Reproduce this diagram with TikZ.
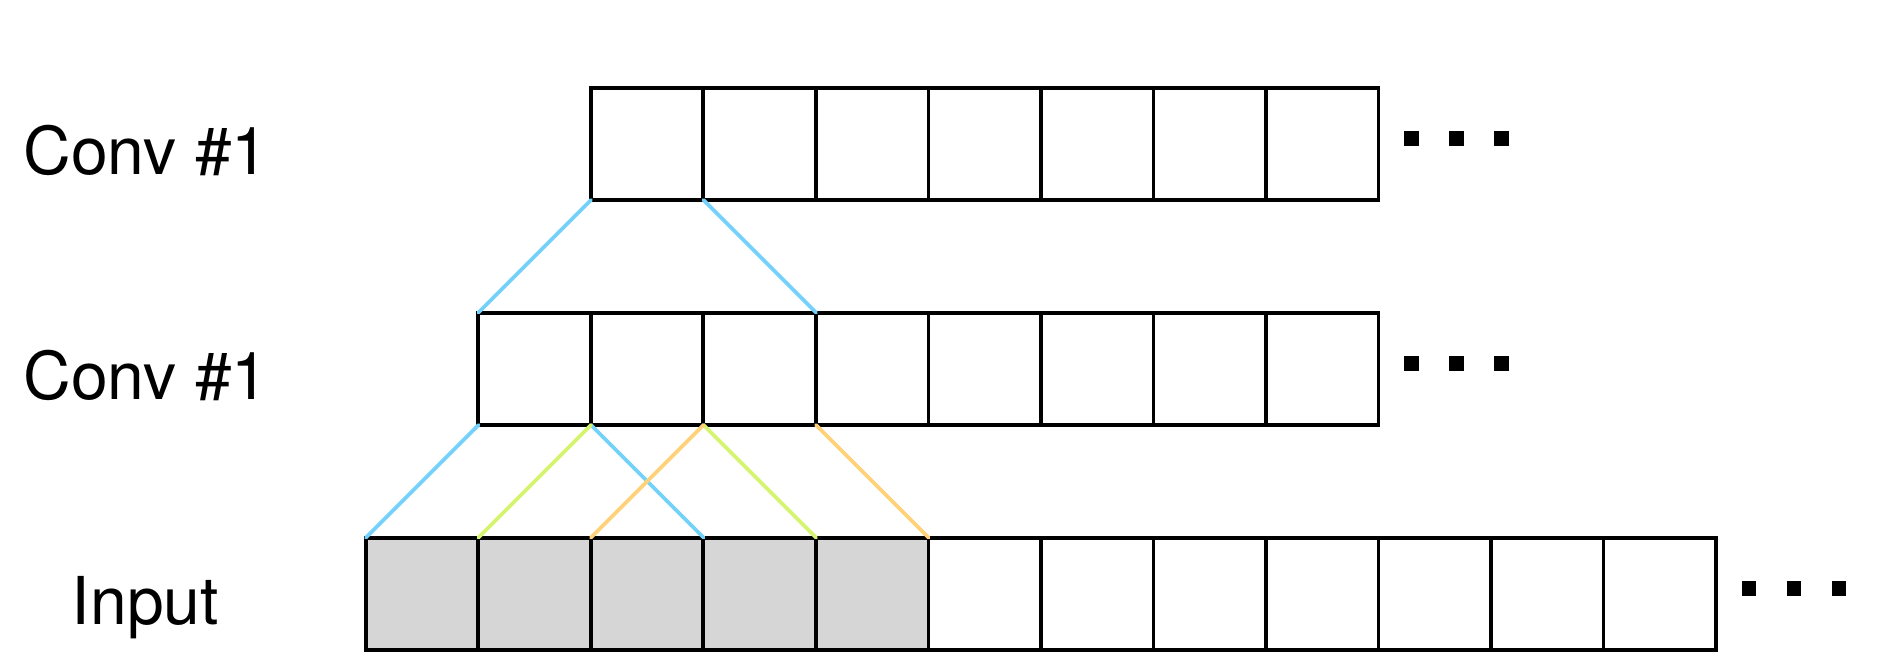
\documentclass[tikz,border=0pt]{standalone}
\usepackage{fontspec}
\setmainfont{TeX Gyre Heros}
\usetikzlibrary{calc}
\definecolor{rfblue}{HTML}{73D1FA}
\definecolor{rfgreen}{HTML}{D5F56E}
\definecolor{rforange}{HTML}{FFD27A}
\definecolor{cellgray}{HTML}{D6D6D6}
\begin{document}
\begin{tikzpicture}[
  cellbox/.style={draw=black, line width=1pt, minimum width=1cm, minimum height=1cm, inner sep=0pt, outer sep=0pt, anchor=south west},
  shaded/.style={fill=cellgray},
  dotbox/.style={fill=black, draw=none, minimum width=0.13cm, minimum height=0.13cm, inner sep=0pt, outer sep=0pt, anchor=south west},
  rowlabel/.style={anchor=base, inner sep=0pt, font=\fontsize{16.7}{20}\selectfont},
  rf/.style={line width=0.95pt, line cap=round}
]
\useasboundingbox (-3.253,-0.107) rectangle (13.52,5.778);
% input row
\foreach \i in {0,...,4} { \node[cellbox, shaded] (in\i) at (\i,0) {}; }
\foreach \i in {5,...,11} { \node[cellbox] (in\i) at (\i,0) {}; }
% second row
\foreach \i in {0,...,7} { \node[cellbox] (mid\i) at (\i+1,2) {}; }
% top row
\foreach \i in {0,...,6} { \node[cellbox] (top\i) at (\i+2,4) {}; }
% dots
\foreach \j/\dx in {0/0.23, 1/0.63, 2/1.03} {
  \node[dotbox] (tdot\j) at ($(top6.south east)+(\dx,0.48)$) {};
  \node[dotbox] (mdot\j) at ($(mid7.south east)+(\dx,0.48)$) {};
  \node[dotbox] (idot\j) at ($(in11.south east)+(\dx,0.48)$) {};
}
% labels
\node[rowlabel] (ltop) at (-1.955,4.23) {Conv \#1};
\node[rowlabel] (lmid) at (-1.955,2.228) {Conv \#1};
\node[rowlabel] (lin) at (-1.96,0.228) {Input};
% connectors
\draw[rf, rfblue] (top0.south west) -- (mid0.north west);
\draw[rf, rfblue] (top0.south east) -- (mid2.north east);
\draw[rf, rfblue] (mid0.south west) -- (in0.north west);
\draw[rf, rfblue] (mid0.south east) -- (in2.north east);
\draw[rf, rfgreen] (mid1.south west) -- (in1.north west);
\draw[rf, rfgreen] (mid1.south east) -- (in3.north east);
\draw[rf, rforange] (mid2.south west) -- (in2.north west);
\draw[rf, rforange] (mid2.south east) -- (in4.north east);
\end{tikzpicture}
\end{document}
